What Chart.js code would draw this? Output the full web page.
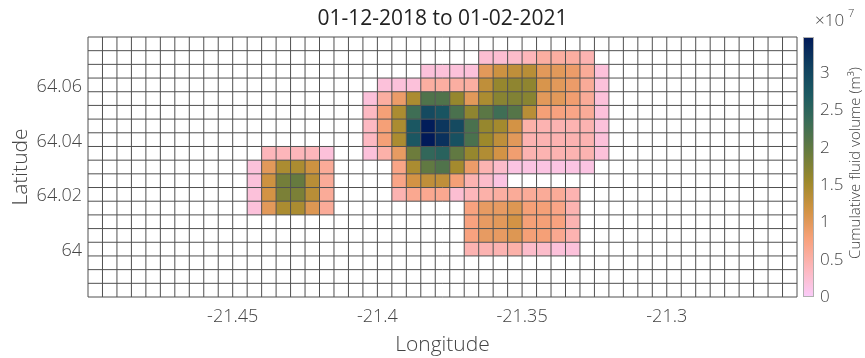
<!DOCTYPE html>
<html><head><meta charset="utf-8">
<script src="https://cdn.jsdelivr.net/npm/chart.js@4/dist/chart.umd.min.js"></script>
<style>html,body{margin:0;padding:0;background:#fff}</style>
</head><body>
<canvas id="c" width="865" height="358"></canvas>
<script>
const TITLE = '01-12-2018 to 01-02-2021';
const X_LABEL = 'Longitude';
const Y_LABEL = 'Latitude';
const CB_LABEL = 'Cumulative fluid volume (m³)';
const X_TICKS = [-21.45, -21.4, -21.35, -21.3];
const Y_TICKS = [64, 64.02, 64.04, 64.06];
const CB_TICKS = [0, 0.5, 1, 1.5, 2, 2.5, 3];
const X_RANGE = [-21.5, -21.255];
const Y_RANGE = [63.9832, 64.0782];
const CB_RANGE = [0, 3.485];   // ×10^7 m³
const CELL = 0.005;            // grid cell size (deg)

// cell-centre longitudes of the data window (columns)
const LON = [-21.4425, -21.4375, -21.4325, -21.4275, -21.4225, -21.4175, -21.4125, -21.4075, -21.4025,
  -21.3975, -21.3925, -21.3875, -21.3825, -21.3775, -21.3725, -21.3675, -21.3625, -21.3575, -21.3525,
  -21.3475, -21.3425, -21.3375, -21.3325, -21.3275, -21.3225];
// cell-centre latitudes of the data window (rows, north to south)
const LAT = [64.0707, 64.0657, 64.0607, 64.0557, 64.0507, 64.0457, 64.0407, 64.0357, 64.0307,
  64.0257, 64.0207, 64.0157, 64.0107, 64.0057, 64.0007];

const n = null;
// cumulative fluid volume, ×10^7 m³ (null = no data)
const VOL = [
  [n,n,n,n,n,n,n,n,n,n,n,n,n,n,n,n, .25,.25,.3,.4,.55,.55,.55,.45,n],
  [n,n,n,n,n,n,n,n,n,n,n,n, .2,.2,.2,.2, 1.0,1.2,1.3,1.35,1.0,1.0,.9,.6,.2],
  [n,n,n,n,n,n,n,n,n, .2,.2,.2, .55,.55,.55,.55, 1.3,1.6,1.65,1.65,1.1,1.0,.9,.6,.2],
  [n,n,n,n,n,n,n,n, .2,.55,.9,1.45,2.15,2.15,1.6,1.0, 1.45,1.7,1.75,1.7,1.0,1.0,.85,.6,.2],
  [n,n,n,n,n,n,n,n, .35,.8,1.45,2.3,2.95,2.8,2.2,1.65, 2.05,2.3,2.1,1.35,.8,.75,.7,.6,.2],
  [n,n,n,n,n,n,n,n, .35,.8,1.45,2.75,3.45,3.2,2.95,2.2, 1.6,1.5,1.15,.5,.45,.45,.45,.45,.2],
  [n,n,n,n,n,n,n,n, .35,.8,1.45,2.75,3.48,3.25,2.85,2.2, 1.55,1.3,1.0,.45,.45,.45,.45,.45,.2],
  [n,.4,.4,.4,.4,.2,n,n, .2,.5,.95,1.9,2.45,2.55,2.0,1.6, 1.4,1.15,.85,.45,.45,.45,.45,.45,.2],
  [.2,1.0,1.45,1.45,1.2,.6,n,n, n,n,.7,1.45,2.0,2.15,1.5,.9, .45,.3,.15,.15,.15,.15,.15,.15,n],
  [.2,1.2,1.85,1.95,1.35,.6,n,n, n,n,.7,1.15,1.3,1.3,.8,.45, .3,.15,n,n,n,n,n,n,n],
  [.2,1.15,1.8,1.8,1.35,.6,n,n, n,n,.45,.65,.65,.65,.25,.4, .5,.55,.6,.6,.6,.6,.45,n,n],
  [.2,1.0,1.45,1.45,1.05,.6,n,n, n,n,n,n,n,n,n,.75, .95,.95,1.05,.8,.8,.7,.45,n,n],
  [n,n,n,n,n,n,n,n, n,n,n,n,n,n,n,.75, .95,1.0,1.15,.8,.8,.75,.45,n,n],
  [n,n,n,n,n,n,n,n, n,n,n,n,n,n,n,.75, .95,.95,1.05,.8,.8,.65,.45,n,n],
  [n,n,n,n,n,n,n,n, n,n,n,n,n,n,n,.45, .45,.45,.5,.3,.3,.2,.2,n,n]
];

// batlow (Crameri) colour map, dark -> light; used reversed
const BATLOW = [[1,25,89],[16,64,95],[28,90,98],[60,109,86],[104,123,62],[157,137,43],
  [210,147,67],[248,161,123],[253,183,188],[250,204,250]];
function cmapRGB(v){
  let t = 1 - (v - CB_RANGE[0]) / (CB_RANGE[1] - CB_RANGE[0]);
  t = Math.max(0, Math.min(1, t));
  const f = t * (BATLOW.length - 1), i = Math.min(Math.floor(f), BATLOW.length - 2), r = f - i;
  const a = BATLOW[i], b = BATLOW[i+1];
  return [0,1,2].map(k => Math.round(a[k] + (b[k]-a[k]) * r));
}
function cmap(v){ const c = cmapRGB(v); return `rgb(${c[0]},${c[1]},${c[2]})`; }

const points = [];
LAT.forEach((la, r) => LON.forEach((lo, c) => {
  if (VOL[r][c] !== null) points.push({x: lo, y: la, v: VOL[r][c]});
}));

const FONT = '"Open Sans", "Noto Sans", sans-serif';
const fmt = v => String(+(+v).toFixed(3));

const heat = {
  id: 'heat',
  beforeDatasetsDraw(chart){
    const {ctx, chartArea: a, scales: {x, y}} = chart;
    ctx.save();
    for (const p of chart.data.datasets[0].data){
      const x0 = x.getPixelForValue(p.x - CELL/2), x1 = x.getPixelForValue(p.x + CELL/2);
      const y0 = y.getPixelForValue(p.y + CELL/2), y1 = y.getPixelForValue(p.y - CELL/2);
      ctx.fillStyle = cmap(p.v);
      ctx.fillRect(x0, y0, x1 - x0, y1 - y0);
    }
    ctx.strokeStyle = '#505050'; ctx.lineWidth = 1;
    ctx.beginPath();
    const nx = Math.round((X_RANGE[1] - X_RANGE[0]) / CELL);
    for (let k = 0; k <= nx; k++){
      const px = x.getPixelForValue(X_RANGE[0] + k * CELL);
      ctx.moveTo(px, a.top); ctx.lineTo(px, a.bottom);
    }
    const ny = Math.round((Y_RANGE[1] - Y_RANGE[0]) / CELL);
    for (let k = 0; k <= ny; k++){
      const py = y.getPixelForValue(Y_RANGE[0] + k * CELL);
      ctx.moveTo(a.left, py); ctx.lineTo(a.right, py);
    }
    ctx.stroke();
    ctx.restore();
  },
  afterDraw(chart){
    const {ctx, chartArea: a, scales: {cb}} = chart;
    ctx.save();
    // title
    ctx.fillStyle = '#222';
    ctx.font = `400 21px ${FONT}`;
    ctx.textAlign = 'center'; ctx.textBaseline = 'middle';
    ctx.fillText(TITLE, (a.left + a.right) / 2, 19);
    // colour bar
    const top = cb.getPixelForValue(CB_RANGE[1]), bot = cb.getPixelForValue(CB_RANGE[0]);
    const bx = a.right + 6, bw = 11;
    const g = ctx.createLinearGradient(0, bot, 0, top);
    for (let i = 0; i <= 40; i++){
      const v = CB_RANGE[0] + (CB_RANGE[1] - CB_RANGE[0]) * i / 40;
      g.addColorStop(i / 40, cmap(v));
    }
    ctx.fillStyle = g;
    ctx.fillRect(bx, top, bw, bot - top);
    ctx.strokeStyle = '#b0b0b0'; ctx.lineWidth = 1;
    ctx.strokeRect(bx + 0.5, top + 0.5, bw - 1, bot - top - 1);
    // exponent
    ctx.fillStyle = '#444';
    ctx.textAlign = 'left'; ctx.textBaseline = 'middle';
    ctx.font = `300 17px ${FONT}`;
    ctx.fillText('×10', 815, 21);
    ctx.font = `300 11px ${FONT}`;
    ctx.fillText('7', 848, 14);
    // colour bar label
    ctx.translate(856, (top + bot) / 2 - 4);
    ctx.rotate(-Math.PI / 2);
    ctx.textAlign = 'center';
    ctx.font = `300 15px ${FONT}`;
    ctx.fillText(CB_LABEL, 0, 0);
    ctx.restore();
  }
};

const tickFont = {family: FONT, size: 18, weight: 300};
const titleFont = {family: FONT, size: 21, weight: 300};

new Chart(document.getElementById('c'), {
  type: 'scatter',
  data: {datasets: [{data: points, pointRadius: 0, pointHoverRadius: 0}]},
  options: {
    responsive: false, animation: false, devicePixelRatio: 1,
    layout: {padding: {top: 37, left: 0, right: 0, bottom: 0}},
    plugins: {legend: {display: false}, tooltip: {enabled: false}, title: {display: false}},
    events: [],
    scales: {
      x: {
        type: 'linear', position: 'bottom', min: X_RANGE[0], max: X_RANGE[1],
        afterBuildTicks: s => { s.ticks = X_TICKS.map(v => ({value: v})); },
        afterFit: s => { s.height = 61; },
        grid: {display: false, drawTicks: false}, border: {display: false},
        ticks: {callback: fmt, font: tickFont, color: '#444', padding: 9, maxRotation: 0, autoSkip: false},
        title: {display: true, text: X_LABEL, font: titleFont, color: '#444', padding: {top: 0, bottom: 0}}
      },
      y: {
        type: 'linear', position: 'left', min: Y_RANGE[0], max: Y_RANGE[1],
        afterBuildTicks: s => { s.ticks = Y_TICKS.map(v => ({value: v})); },
        afterFit: s => { s.width = 88; },
        grid: {display: false, drawTicks: false}, border: {display: false},
        ticks: {callback: fmt, font: tickFont, color: '#444', padding: 6, autoSkip: false},
        title: {display: true, text: Y_LABEL, font: titleFont, color: '#444', padding: {top: 8, bottom: 0}}
      },
      cb: {
        type: 'linear', position: 'right', min: CB_RANGE[0], max: CB_RANGE[1],
        afterBuildTicks: s => { s.ticks = CB_TICKS.map(v => ({value: v})); },
        afterFit: s => { s.width = 68; },
        grid: {display: false, drawTicks: false}, border: {display: false},
        ticks: {callback: fmt, font: {family: FONT, size: 17, weight: 300}, color: '#444', padding: 23, autoSkip: false}
      }
    }
  },
  plugins: [heat]
});
</script>
</body></html>
